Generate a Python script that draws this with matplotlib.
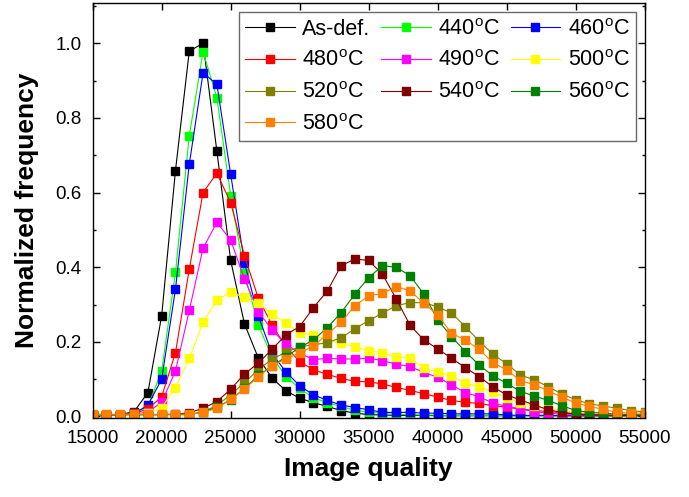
import matplotlib.pyplot as plt
from matplotlib.ticker import MultipleLocator

plt.rcParams['font.family'] = ['Liberation Sans', 'DejaVu Sans']
plt.rcParams['mathtext.fontset'] = 'custom'
plt.rcParams['mathtext.rm'] = 'Liberation Sans'

image_quality = [15000, 16000, 17000, 18000, 19000, 20000, 21000, 22000, 23000, 24000,
                 25000, 26000, 27000, 28000, 29000, 30000, 31000, 32000, 33000, 34000,
                 35000, 36000, 37000, 38000, 39000, 40000, 41000, 42000, 43000, 44000,
                 45000, 46000, 47000, 48000, 49000, 50000, 51000, 52000, 53000, 54000, 55000]

as_def = [0.005, 0.005, 0.005, 0.013, 0.064, 0.270, 0.659, 0.979, 1.000, 0.711,
          0.418, 0.248, 0.157, 0.103, 0.069, 0.049, 0.037, 0.027, 0.016, 0.009,
          0.005, 0.004, 0.003, 0.003, 0.003, 0.002, 0.002, 0.002, 0.002, 0.002,
          0.002, 0.002, 0.002, 0.002, 0.002, 0.002, 0.002, 0.002, 0.002, 0.002, 0.002]
t440 = [0.005, 0.005, 0.005, 0.008, 0.027, 0.122, 0.386, 0.752, 0.977, 0.854,
        0.592, 0.384, 0.245, 0.160, 0.107, 0.075, 0.050, 0.037, 0.027, 0.017,
        0.012, 0.008, 0.006, 0.005, 0.004, 0.004, 0.003, 0.003, 0.003, 0.003,
        0.003, 0.002, 0.002, 0.002, 0.002, 0.002, 0.002, 0.002, 0.002, 0.002, 0.002]
t460 = [0.005, 0.005, 0.005, 0.008, 0.030, 0.100, 0.341, 0.676, 0.921, 0.890,
        0.649, 0.412, 0.270, 0.168, 0.120, 0.082, 0.058, 0.043, 0.031, 0.024,
        0.018, 0.011, 0.011, 0.011, 0.009, 0.009, 0.007, 0.007, 0.007, 0.007,
        0.004, 0.003, 0.003, 0.003, 0.002, 0.002, 0.002, 0.002, 0.002, 0.002, 0.002]
t480 = [0.005, 0.005, 0.005, 0.008, 0.020, 0.053, 0.171, 0.395, 0.600, 0.652,
        0.573, 0.431, 0.317, 0.245, 0.187, 0.147, 0.125, 0.113, 0.102, 0.094,
        0.093, 0.087, 0.078, 0.070, 0.061, 0.052, 0.043, 0.038, 0.035, 0.029,
        0.025, 0.020, 0.016, 0.013, 0.010, 0.008, 0.006, 0.005, 0.004, 0.004, 0.003]
t490 = [0.005, 0.005, 0.005, 0.006, 0.012, 0.038, 0.122, 0.284, 0.451, 0.520,
        0.473, 0.368, 0.281, 0.232, 0.193, 0.170, 0.152, 0.156, 0.154, 0.154,
        0.156, 0.150, 0.140, 0.134, 0.118, 0.105, 0.085, 0.064, 0.053, 0.036,
        0.027, 0.020, 0.013, 0.009, 0.006, 0.004, 0.004, 0.003, 0.003, 0.003, 0.003]
t500 = [0.005, 0.005, 0.005, 0.005, 0.008, 0.024, 0.077, 0.156, 0.252, 0.312,
        0.333, 0.319, 0.303, 0.274, 0.250, 0.224, 0.219, 0.205, 0.196, 0.187,
        0.176, 0.171, 0.160, 0.156, 0.130, 0.118, 0.108, 0.089, 0.080, 0.066,
        0.050, 0.037, 0.028, 0.020, 0.016, 0.012, 0.009, 0.007, 0.005, 0.005, 0.004]
t520 = [0.005, 0.005, 0.005, 0.005, 0.005, 0.005, 0.005, 0.005, 0.012, 0.030,
        0.058, 0.091, 0.125, 0.154, 0.172, 0.187, 0.192, 0.198, 0.211, 0.235,
        0.257, 0.277, 0.297, 0.305, 0.305, 0.294, 0.277, 0.241, 0.202, 0.167,
        0.141, 0.111, 0.098, 0.080, 0.060, 0.045, 0.034, 0.028, 0.022, 0.016, 0.012]
t540 = [0.005, 0.005, 0.005, 0.005, 0.005, 0.005, 0.006, 0.010, 0.022, 0.040,
        0.073, 0.114, 0.143, 0.180, 0.219, 0.241, 0.292, 0.336, 0.404, 0.422,
        0.418, 0.381, 0.315, 0.244, 0.205, 0.181, 0.156, 0.131, 0.107, 0.079,
        0.058, 0.044, 0.031, 0.018, 0.011, 0.006, 0.004, 0.004, 0.003, 0.003, 0.003]
t560 = [0.005, 0.005, 0.005, 0.005, 0.005, 0.005, 0.005, 0.005, 0.012, 0.025,
        0.045, 0.075, 0.110, 0.135, 0.160, 0.185, 0.205, 0.238, 0.278, 0.328,
        0.372, 0.404, 0.400, 0.377, 0.328, 0.259, 0.214, 0.174, 0.138, 0.109,
        0.089, 0.067, 0.055, 0.043, 0.029, 0.016, 0.011, 0.009, 0.006, 0.005, 0.004]
t580 = [0.006, 0.006, 0.006, 0.006, 0.006, 0.006, 0.006, 0.006, 0.011, 0.022,
        0.046, 0.073, 0.107, 0.135, 0.155, 0.170, 0.189, 0.221, 0.252, 0.297,
        0.323, 0.330, 0.348, 0.337, 0.303, 0.272, 0.223, 0.205, 0.180, 0.144,
        0.125, 0.096, 0.085, 0.069, 0.052, 0.036, 0.027, 0.019, 0.011, 0.009, 0.009]

labels = ['As-def.', r'440$^{\rm o}$C', r'460$^{\rm o}$C', r'480$^{\rm o}$C', r'490$^{\rm o}$C',
          r'500$^{\rm o}$C', r'520$^{\rm o}$C', r'540$^{\rm o}$C', r'560$^{\rm o}$C', r'580$^{\rm o}$C']
series = [as_def, t440, t460, t480, t490, t500, t520, t540, t560, t580]
colors = ['#000000', '#00FF00', '#0000FF', '#FF0000', '#FF00FF',
          '#FFFF00', '#808000', '#800000', '#008000', '#FF8000']

fig = plt.figure(figsize=(6.89, 4.97), dpi=100)
ax = fig.add_axes([0.1345, 0.159, 0.8012, 0.835])

lines = []
for y, c, lab in zip(series, colors, labels):
    ln, = ax.plot(image_quality, y, color=c, lw=0.8, marker='s', ms=5.8,
                  mfc=c, mec=c, label=lab)
    lines.append(ln)

ax.set_xlim(15000, 55000)
ax.set_ylim(-0.004, 1.108)
ax.xaxis.set_major_locator(MultipleLocator(5000))
ax.yaxis.set_major_locator(MultipleLocator(0.2))
ax.yaxis.set_minor_locator(MultipleLocator(0.1))
ax.tick_params(which='both', direction='in', top=True, right=True, labelsize=13.5, width=1)
ax.tick_params(which='major', length=5)
ax.tick_params(which='minor', length=2.5)
ax.tick_params(axis='x', pad=9)
ax.tick_params(axis='y', pad=8)
for s in ax.spines.values():
    s.set_linewidth(1.0)

ax.set_xlabel('Image quality', fontsize=19, fontweight='bold', labelpad=7)
ax.set_ylabel('Normalized frequency', fontsize=19, fontweight='bold', labelpad=12)

# row-major legend order like the original
order = [0, 3, 6, 9, 1, 4, 7, 2, 5, 8]
leg = ax.legend([lines[i] for i in order], [labels[i] for i in order],
                ncol=3, loc='upper right', bbox_to_anchor=(0.984, 0.978),
                fontsize=15.5, frameon=True, fancybox=False, handlelength=2.3,
                handletextpad=0.35, columnspacing=0.5, labelspacing=0.5,
                borderpad=0.3, borderaxespad=0)
leg.get_frame().set_edgecolor('#444444')
leg.get_frame().set_linewidth(1.0)

plt.savefig('out.png', dpi=100)
